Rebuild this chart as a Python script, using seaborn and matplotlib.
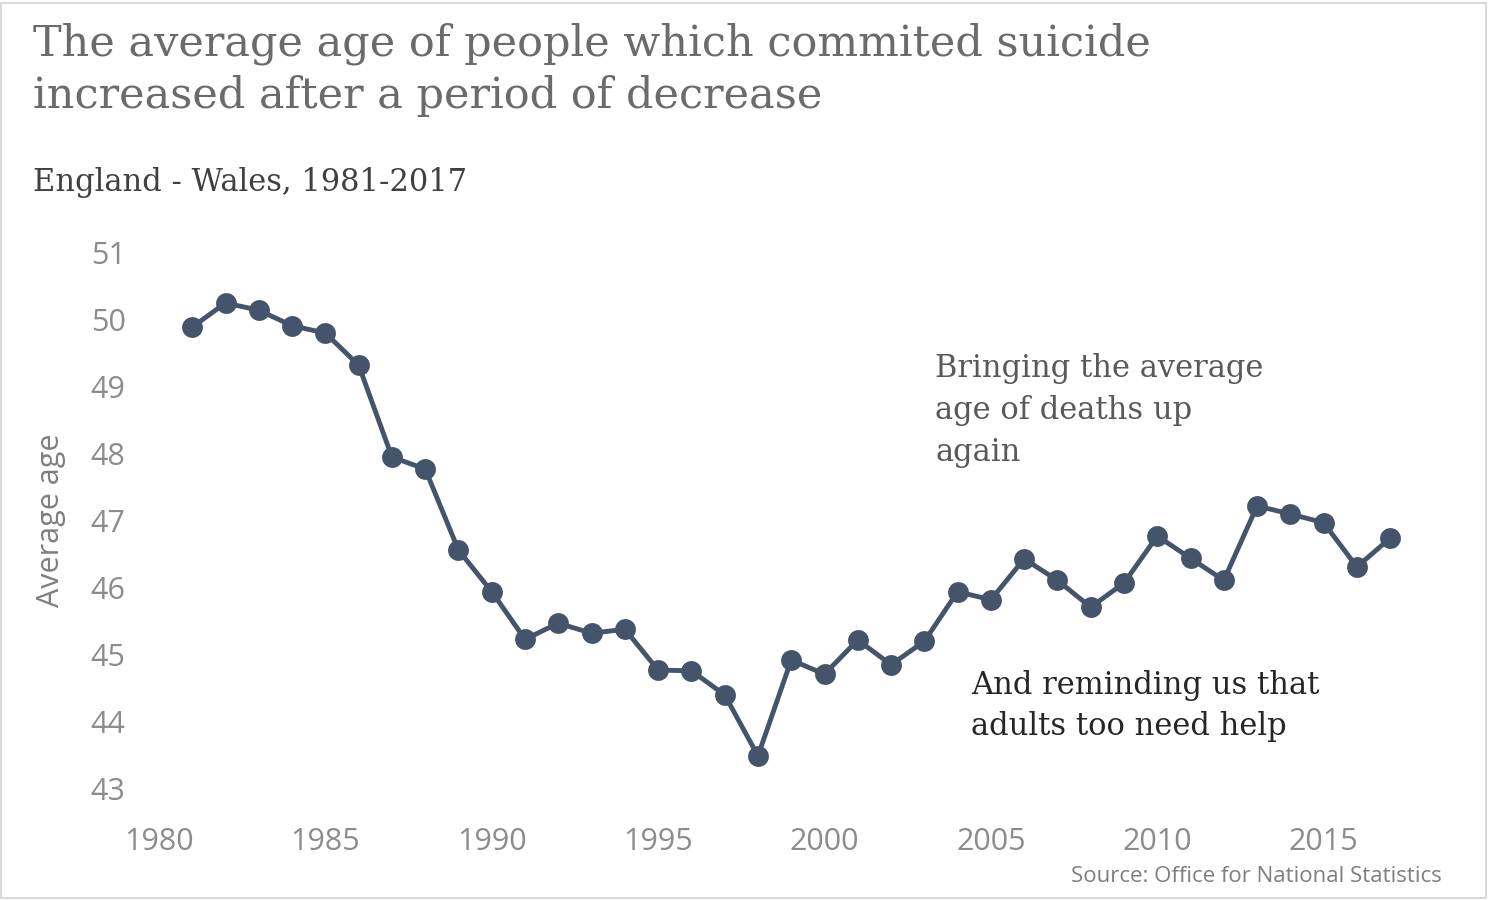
import matplotlib
matplotlib.use("Agg")
import matplotlib.pyplot as plt
import seaborn as sns
import pandas as pd

years = list(range(1981, 2018))
avg_age = [49.88, 50.24, 50.13, 49.90, 49.79, 49.31, 47.94, 47.76, 46.55, 45.93,
           45.22, 45.46, 45.31, 45.37, 44.76, 44.75, 44.39, 43.48, 44.91, 44.70,
           45.21, 44.84, 45.19, 45.93, 45.81, 46.42, 46.10, 45.70, 46.06, 46.76,
           46.43, 46.10, 47.21, 47.09, 46.96, 46.30, 46.73]
xticks = [1980, 1985, 1990, 1995, 2000, 2005, 2010, 2015]
yticks = list(range(43, 52))

df = pd.DataFrame({"year": years, "age": avg_age})
sns.set_style("white")
plt.rcParams['font.family'] = ['Open Sans', 'DejaVu Sans']

fig = plt.figure(figsize=(14.89, 9), dpi=100)
ax = fig.add_axes([0.1068, 0.1244, 0.838, 0.5956])
col = "#44546a"
sns.lineplot(data=df, x="year", y="age", ax=ax, color=col, lw=3.5, marker="o",
             markersize=15, markeredgewidth=0, clip_on=False)
ax.set_xlim(1980, 2017.5)
ax.set_ylim(43, 51)
ax.set_xticks(xticks)
ax.set_yticks(yticks)
ax.tick_params(labelsize=22, colors="#8c8c8c", length=0)
ax.tick_params(axis="x", pad=28)
ax.tick_params(axis="y", pad=24)
for s in ax.spines.values():
    s.set_visible(False)
ax.set_xlabel("")
ax.set_ylabel("Average age", fontsize=22, color="#7f7f7f", labelpad=18)

serif = ['DejaVu Serif']
fig.text(0.022, 0.975, "The average age of people which commited suicide\nincreased after a period of decrease",
         fontsize=31, color="#6b6b6b", family=serif, va="top", linespacing=1.3)
fig.text(0.022, 0.78, "England - Wales, 1981-2017", fontsize=22, color="#404040", family=serif, va="bottom")
fig.text(0.628, 0.48, "Bringing the average\nage of deaths up\nagain", fontsize=22, color="#595959",
         family=serif, va="bottom", linespacing=1.45)
fig.text(0.652, 0.175, "And reminding us that\nadults too need help", fontsize=22, color="#262626",
         family=serif, va="bottom", linespacing=1.45)
fig.text(0.968, 0.015, "Source: Office for National Statistics", fontsize=16, color="#7f7f7f", ha="right", va="bottom")
fig.patches.append(plt.Rectangle((0.001, 0.002), 0.997, 0.995, transform=fig.transFigure,
                                 fill=False, edgecolor="#d9d9d9", lw=1.5))
fig.savefig("out.png", dpi=100)
